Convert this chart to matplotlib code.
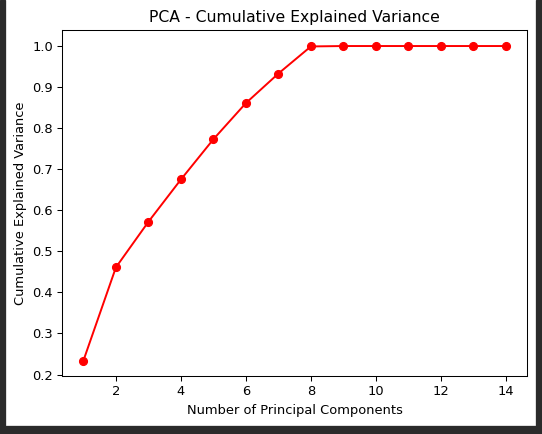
import matplotlib
matplotlib.use("Agg")
import matplotlib.pyplot as plt
from matplotlib.patches import Rectangle

components = list(range(1, 15))
cumulative_variance = [0.234, 0.461, 0.572, 0.675, 0.773, 0.861, 0.933,
                       0.999, 1.0, 1.0, 1.0, 1.0, 1.0, 1.0]

W, H = 542, 434
dpi = 93.7
fig = plt.figure(figsize=(W / dpi, H / dpi), dpi=dpi)
ax = fig.add_axes([62.3 / W, 1 - 376.3 / H, (527 - 62.3) / W, (376.3 - 30.3) / H])
ax.plot(components, cumulative_variance, marker='o', linestyle='-', color='red')
ax.set_xlabel('Number of Principal Components')
ax.set_ylabel('Cumulative Explained Variance')
ax.set_title('PCA - Cumulative Explained Variance')

# dark screenshot borders
dark = '#2b2b2b'
for (x0, y0, w, h) in [(0, 0, 5, H), (536, 0, W - 536, H), (0, 426, W, H - 426)]:
    fig.patches.append(Rectangle((x0 / W, 1 - (y0 + h) / H), w / W, h / H,
                                 transform=fig.transFigure, color=dark, zorder=10))

fig.savefig('out.png', dpi=dpi)
